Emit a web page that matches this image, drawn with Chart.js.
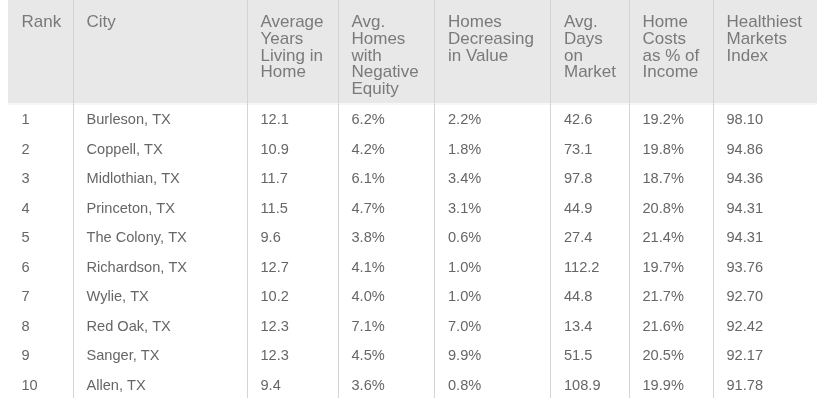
<!DOCTYPE html>
<html>
<head>
<meta charset="utf-8">
<script src="https://cdn.jsdelivr.net/npm/chart.js@4/dist/chart.umd.min.js"></script>
<style>
html,body{margin:0;padding:0;background:#fff;}
canvas{display:block;}
</style>
</head>
<body>
<canvas id="c" width="830" height="408"></canvas>
<script>
// ---- data ----
const headers = [
  ["Rank"],
  ["City"],
  ["Average", "Years", "Living in", "Home"],
  ["Avg.", "Homes", "with", "Negative", "Equity"],
  ["Homes", "Decreasing", "in Value"],
  ["Avg.", "Days", "on", "Market"],
  ["Home", "Costs", "as % of", "Income"],
  ["Healthiest", "Markets", "Index"]
];
const ranks = ["1","2","3","4","5","6","7","8","9","10"];
const cities = ["Burleson, TX","Coppell, TX","Midlothian, TX","Princeton, TX","The Colony, TX","Richardson, TX","Wylie, TX","Red Oak, TX","Sanger, TX","Allen, TX"];
const avgYears = ["12.1","10.9","11.7","11.5","9.6","12.7","10.2","12.3","12.3","9.4"];
const negEquity = ["6.2%","4.2%","6.1%","4.7%","3.8%","4.1%","4.0%","7.1%","4.5%","3.6%"];
const decreasing = ["2.2%","1.8%","3.4%","3.1%","0.6%","1.0%","1.0%","7.0%","9.9%","0.8%"];
const daysOnMarket = ["42.6","73.1","97.8","44.9","27.4","112.2","44.8","13.4","51.5","108.9"];
const costPct = ["19.2%","19.8%","18.7%","20.8%","21.4%","19.7%","21.7%","21.6%","20.5%","19.9%"];
const healthIndex = ["98.10","94.86","94.36","94.31","94.31","93.76","92.70","92.42","92.17","91.78"];

const columns = [ranks, cities, avgYears, negEquity, decreasing, daysOnMarket, costPct, healthIndex];

// ---- layout (not data) ----
const colEdges = [8, 73, 247, 338, 434.5, 550.5, 629, 713, 817];
const cellPad = 13.5;
const headerFirstBaseline = -2.28;   // in row units
const headerLineHeight = 16.8;       // px
const headerBottom = 0.29;           // in row units

const datasets = columns.map((col, c) => ({
  label: headers[c].join(' '),
  data: col.map((v, r) => ({x: colEdges[c] + cellPad, y: r + 1})),
  pointRadius: 0,
  pointHoverRadius: 0,
  showLine: false
}));

const tablePlugin = {
  id: 'tablePlugin',
  beforeDraw(chart) {
    const {ctx, scales: {x, y}} = chart;
    ctx.save();
    ctx.fillStyle = '#e8e8e8';
    const x0 = x.getPixelForValue(colEdges[0]);
    const x1 = x.getPixelForValue(colEdges[colEdges.length - 1]);
    const y0 = chart.chartArea.top;
    const y1 = y.getPixelForValue(headerBottom);
    ctx.fillRect(x0, y0, x1 - x0, y1 - y0);
    ctx.fillStyle = 'rgba(0,0,0,0.035)';
    ctx.fillRect(x0, y1, x1 - x0, 2);
    ctx.restore();
  },
  afterDatasetsDraw(chart) {
    const {ctx, scales: {x, y}} = chart;
    ctx.save();
    ctx.textBaseline = 'alphabetic';
    ctx.textAlign = 'left';
    // header
    ctx.fillStyle = '#7a7a7a';
    ctx.font = '17px "Liberation Sans", Arial, sans-serif';
    headers.forEach((lines, c) => {
      const px = x.getPixelForValue(colEdges[c] + cellPad);
      const py = y.getPixelForValue(headerFirstBaseline);
      lines.forEach((t, k) => ctx.fillText(t, px, py + k * headerLineHeight));
    });
    // body
    ctx.fillStyle = '#666';
    ctx.font = '14.6px "Liberation Sans", Arial, sans-serif';
    chart.data.datasets.forEach((ds, c) => {
      const meta = chart.getDatasetMeta(c);
      meta.data.forEach((el, r) => {
        ctx.fillText(columns[c][r], el.x, el.y);
      });
    });
    ctx.restore();
  }
};

new Chart(document.getElementById('c'), {
  type: 'scatter',
  data: {datasets},
  options: {
    responsive: false,
    animation: false,
    events: [],
    layout: {padding: {left: 0, right: 0, top: 0, bottom: 10}},
    plugins: {legend: {display: false}, tooltip: {enabled: false}},
    scales: {
      x: {
        type: 'linear', min: 0, max: 830, position: 'top',
        afterBuildTicks: s => { s.ticks = colEdges.slice(1, -1).map(v => ({value: v})); },
        ticks: {display: false},
        border: {display: false},
        grid: {color: '#d4d4d4', lineWidth: 1, drawTicks: false, tickLength: 0}
      },
      y: {
        type: 'linear', reverse: true, min: -3.195, max: 10.269,
        display: false
      }
    }
  },
  plugins: [tablePlugin]
});
</script>
</body>
</html>
